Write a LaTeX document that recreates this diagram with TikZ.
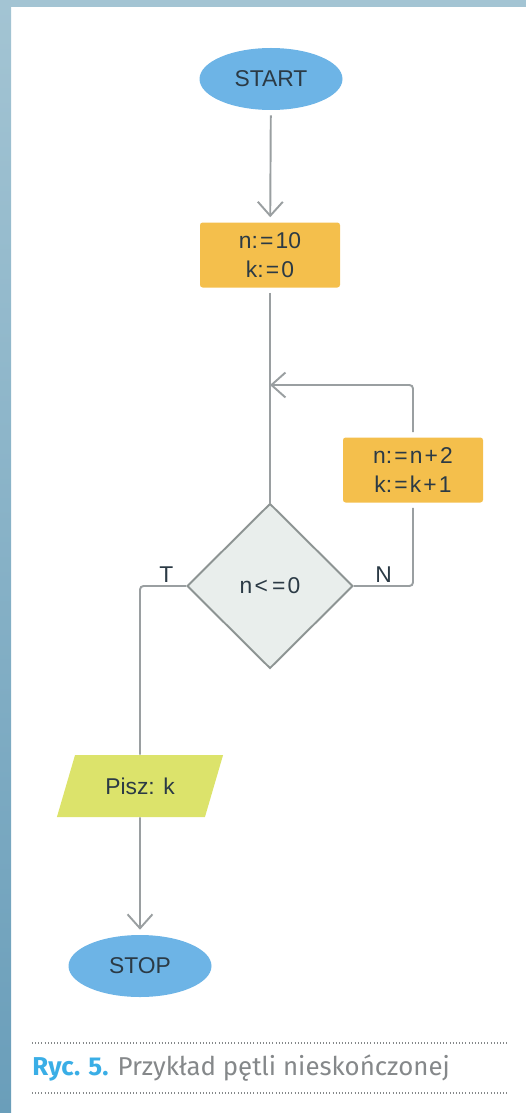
\documentclass[tikz,border=0pt]{standalone}
\usepackage{fontspec}
\setmainfont{Liberation Sans}
\newfontfamily\capfont{Fira Sans}
\usetikzlibrary{positioning,shapes.geometric,arrows.meta}
\definecolor{termblue}{HTML}{6DB4E6}
\definecolor{inkdark}{HTML}{2B3A45}
\definecolor{procorange}{HTML}{F4BF4C}
\definecolor{iogreen}{HTML}{DCE36B}
\definecolor{condfill}{HTML}{E9EEEC}
\definecolor{condline}{HTML}{8D9493}
\definecolor{flowgray}{HTML}{9A9FA1}
\definecolor{capblue}{HTML}{3AAEE6}
\definecolor{capgray}{HTML}{85888A}
\definecolor{striptop}{HTML}{A3C4D3}
\definecolor{stripbot}{HTML}{6A9EBA}
\newcommand{\opsp}[1]{\kern1.2pt#1\kern1.2pt}
\tikzset{term/.style={ellipse,fill=termblue,text=inkdark,minimum width=2.86cm,minimum height=1.24cm,inner sep=0pt,outer sep=3pt},
  proc/.style={rectangle,rounded corners=1.5pt,fill=procorange,text=inkdark,minimum width=2.8cm,minimum height=1.3cm,align=center,inner sep=0pt,outer sep=3pt},
  cond/.style={diamond,draw=condline,line width=1.1pt,fill=condfill,text=inkdark,minimum width=3.32cm,minimum height=3.3cm,inner sep=0pt},
  io/.style={trapezium,trapezium left angle=60,trapezium right angle=120,trapezium stretches=true,fill=iogreen,text=inkdark,minimum width=3.34cm,minimum height=1.24cm,inner sep=0pt},
  flow/.style={draw=flowgray,line width=1.1pt,rounded corners=2pt},
  arr/.style={-{Straight Barb[length=2.8mm,width=5mm]}},
  lbl/.style={text=inkdark,inner sep=0pt}}

\begin{document}
\begin{tikzpicture}[font=\fontsize{13}{16.5}\selectfont]
\useasboundingbox (0,0) rectangle (10.52,-22.26);
% page edge
\fill[striptop] (0,0) rectangle (10.52,-0.14);
\shade[top color=striptop,bottom color=stripbot] (0,0) rectangle (0.22,-22.26);

\node[term] (start) at (5.42,-1.58) {START};
\node[proc] (init) at (5.40,-5.10) {n:\opsp{=}10\\k:\opsp{=}0};
\node[cond] (test) at (5.40,-11.72) {n\opsp{<}\opsp{=}0};
\node[proc] (incr) at (8.26,-9.40) {n:\opsp{=}n\opsp{+}2\\k:\opsp{=}k\opsp{+}1};
\coordinate (join) at (5.40,-7.70);
\node[io] (out) at (2.80,-15.72) {Pisz: k};
\node[term] (stop) at (2.80,-19.32) {STOP};
\node[lbl,above left=2pt and 7pt of test.west] (tlab) {T};
\node[lbl,above right=2pt and 12pt of test.east] (nlab) {N};

\draw[flow,arr] (start) -- (init);
\draw[flow] (init) -- (test);
\draw[flow] (test.east) -| (incr);
\draw[flow,arr] (incr) |- (join);
\draw[flow] (test.west) -| (out);
\draw[flow,arr] (out) -- (stop);

% caption
\draw[capgray,line width=0.6pt,dash pattern=on 0.5pt off 1.3pt] (0.64,-20.86) -- (10.16,-20.86);
\draw[capgray,line width=0.6pt,dash pattern=on 0.5pt off 1.3pt] (0.64,-21.86) -- (10.16,-21.86);
\node[anchor=west,inner sep=0pt,font=\capfont\fontsize{14.7}{17}\selectfont] (cap) at (0.64,-21.36)
  {\textcolor{capblue}{\bfseries Ryc. 5.} \textcolor{capgray}{Przykład pętli nieskończonej}};
\end{tikzpicture}
\end{document}
